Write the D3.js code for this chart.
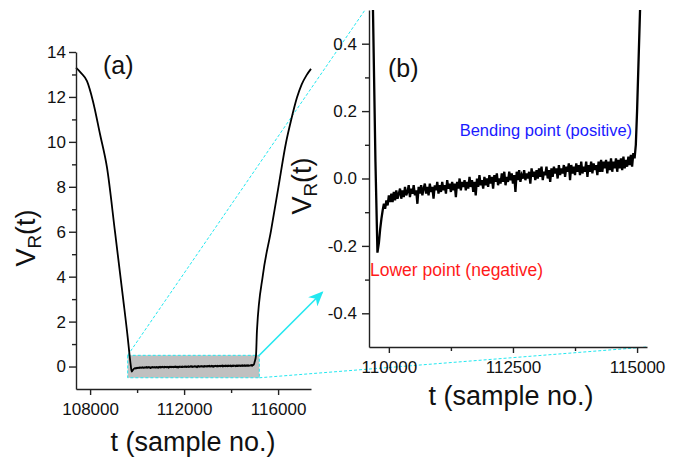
<!DOCTYPE html>
<html>
<head>
<meta charset="utf-8">
<script src="https://cdn.jsdelivr.net/npm/d3@7"></script>
<style>
  body { margin: 0; background: #fff; }
  svg { font-family: Arial, "Liberation Sans", sans-serif; }
  .axis path, .axis line { stroke: #222; stroke-width: 1.4; }
  .axis text { fill: #111; font-size: 17px; font-family: Arial, "Liberation Sans", sans-serif; }
</style>
</head>
<body>
<div id="chart"></div>
<script>
'use strict';

// left arm of the signal (descending part)
let leftT = [107400, 107600, 107868, 108124, 108421, 108720, 109059, 109400, 109600, 109680, 109730, 109770];
let leftV = [13.3, 13.08, 12.7, 11.8, 10.35, 8.85, 6.0, 3.07, 1.3, 0.5, 0.05, -0.22];

// noisy flat part, one value every 25 samples from 109800
let flatStart = 109800;
let flatStep = 25;
let flatV = [
  -0.19, -0.15, -0.12, -0.095, -0.075, -0.09, -0.065, -0.08, -0.05, -0.07,
  -0.045, -0.07, -0.04, -0.065, -0.035, -0.06, -0.045, -0.03, -0.06, -0.035,
  -0.055, -0.025, -0.05, -0.04, -0.02, -0.055, -0.03, -0.045, -0.02, -0.05,
  -0.035, -0.075, -0.025, -0.045, -0.02, -0.05, -0.03, -0.015, -0.045, -0.025,
  -0.05, -0.015, -0.04, -0.025, -0.06, -0.02, -0.035, -0.01, -0.045, -0.02,
  -0.04, -0.01, -0.035, -0.02, -0.045, -0.005, -0.03, -0.015, -0.04, -0.01,
  -0.035, -0.015, -0.055, -0.01, -0.03, 0.0, -0.035, -0.01, -0.025, -0.005,
  -0.035, -0.01, -0.03, 0.005, -0.025, -0.005, -0.04, -0.01, -0.05, 0.0,
  -0.025, 0.01, -0.02, -0.005, -0.03, 0.005, -0.02, 0.0, -0.025, 0.01,
  -0.015, 0.005, -0.03, 0.01, -0.01, 0.015, -0.02, 0.0, -0.015, 0.015,
  -0.01, 0.02, -0.02, 0.005, -0.01, 0.02, -0.005, 0.015, -0.015, 0.01,
  -0.04, 0.02, -0.005, 0.025, -0.01, 0.01, 0.0, 0.025, -0.005, 0.015,
  0.0, 0.02, -0.015, 0.03, 0.005, 0.02, -0.005, 0.025, 0.0, 0.03,
  0.005, 0.035, -0.005, 0.02, 0.01, 0.035, 0.0, 0.025, -0.01, 0.03,
  0.005, 0.035, 0.015, 0.03, 0.0, 0.04, 0.01, 0.03, 0.015, 0.04,
  0.005, 0.035, 0.02, 0.045, -0.005, 0.04, 0.015, 0.035, 0.01, 0.045,
  0.02, 0.04, 0.01, 0.05, 0.015, 0.035, 0.02, 0.05, 0.005, 0.04,
  0.02, 0.05, 0.015, 0.045, 0.025, 0.04, 0.01, 0.05, 0.02, 0.055,
  0.02, 0.05, 0.03, 0.055, 0.015, 0.05, 0.025, 0.06, 0.02, 0.05,
  0.03, 0.06, 0.02, 0.055, 0.03, 0.06, 0.025, 0.065, 0.03, 0.055,
  0.035, 0.065, 0.04, 0.07, 0.035, 0.075, 0.06, 0.1
];

// right arm (rising part)
let rightT = [115000, 115060, 115100, 115357, 115697, 116010, 116336, 116550, 116800, 117000, 117200, 117400];
let rightV = [0.2, 0.5, 1.6, 4.1, 6.04, 7.96, 9.96, 10.95, 11.96, 12.55, 12.95, 13.25];

// axis ticks
let aTicksY = [0, 2, 4, 6, 8, 10, 12, 14];
let aMinorY = [1, 3, 5, 7, 9, 11, 13];
let aTicksX = [108000, 112000, 116000];
let aMinorX = [110000, 114000];
let bTicksY = [-0.4, -0.2, 0.0, 0.2, 0.4];
let bMinorY = [-0.3, -0.1, 0.1, 0.3];
let bTicksX = [110000, 112500, 115000];
let bMinorX = [111250, 113750];

// zoom window shown in (b)
let zoomT = [109600, 115200];
let zoomV = [-0.5, 0.5];

let signal = [];
leftT.forEach((t, i) => signal.push({t: t, v: leftV[i]}));
flatV.forEach((v, i) => signal.push({t: flatStart + i * flatStep, v: v}));
rightT.forEach((t, i) => signal.push({t: t, v: rightV[i]}));

let width = 687, height = 459;
let svg = d3.select('#chart').append('svg')
    .attr('width', width)
    .attr('height', height);

let cyan = '#22e8f0';

let defs = svg.append('defs');
defs.append('marker')
    .attr('id', 'arrow')
    .attr('viewBox', '0 0 10 10')
    .attr('refX', 9).attr('refY', 5)
    .attr('markerWidth', 15).attr('markerHeight', 13)
    .attr('markerUnits', 'userSpaceOnUse')
    .attr('orient', 'auto')
    .attr('preserveAspectRatio', 'none')
    .append('path')
    .attr('d', 'M0,0 L10,5 L0,10 L3,5 Z')
    .attr('fill', cyan);

// scales
let xA = d3.scaleLinear().domain([107400, 117400]).range([76, 311]);
let yA = d3.scaleLinear().domain([-1, 14]).range([389, 52]);
let xB = d3.scaleLinear().domain(zoomT).range([369, 647]);
let yB = d3.scaleLinear().domain(zoomV).range([347, 10]);

// gray zoom rectangle in (a)
svg.append('rect')
    .attr('x', xA(zoomT[0]))
    .attr('y', yA(zoomV[1]))
    .attr('width', xA(zoomT[1]) - xA(zoomT[0]))
    .attr('height', yA(zoomV[0]) - yA(zoomV[1]))
    .attr('fill', '#c0c0c0')
    .attr('stroke', cyan)
    .attr('stroke-width', 1)
    .attr('stroke-dasharray', '3,2');

// dashed connector lines
svg.append('line')
    .attr('x1', xA(zoomT[0])).attr('y1', yA(zoomV[1]))
    .attr('x2', xB(zoomT[0]) - 4).attr('y2', yB(zoomV[1]))
    .attr('stroke', cyan).attr('stroke-width', 1).attr('stroke-dasharray', '3,2');
svg.append('line')
    .attr('x1', xA(zoomT[1])).attr('y1', yA(zoomV[0]))
    .attr('x2', xB(zoomT[1])).attr('y2', yB(zoomV[0]))
    .attr('stroke', cyan).attr('stroke-width', 1).attr('stroke-dasharray', '3,2');

// arrow
svg.append('line')
    .attr('x1', xA(zoomT[1])).attr('y1', yA(zoomV[1]))
    .attr('x2', xA(zoomT[1]) + 63).attr('y2', yA(zoomV[1]) - 63)
    .attr('stroke', cyan).attr('stroke-width', 1.6)
    .attr('marker-end', 'url(#arrow)');

// ---- panel (a)
let lineA = d3.line().x(d => xA(d.t)).y(d => yA(d.v)).curve(d3.curveMonotoneX);
svg.append('path')
    .datum(signal)
    .attr('d', lineA)
    .attr('fill', 'none')
    .attr('stroke', '#000')
    .attr('stroke-width', 1.8);

svg.append('g').attr('class', 'axis')
    .attr('transform', `translate(${xA.range()[0]},0)`)
    .call(d3.axisLeft(yA).tickValues(aTicksY).tickSize(7).tickSizeOuter(0).tickPadding(3));
svg.append('g').attr('class', 'axis')
    .attr('transform', `translate(${xA.range()[0]},0)`)
    .call(d3.axisLeft(yA).tickValues(aMinorY).tickSize(4).tickFormat('').tickSizeOuter(0))
    .select('.domain').remove();

svg.append('g').attr('class', 'axis')
    .attr('transform', `translate(0,${yA.range()[0]})`)
    .call(d3.axisBottom(xA).tickValues(aTicksX).tickSize(6).tickSizeOuter(0).tickPadding(8).tickFormat(d3.format('d')));
svg.append('g').attr('class', 'axis')
    .attr('transform', `translate(0,${yA.range()[0]})`)
    .call(d3.axisBottom(xA).tickValues(aMinorX).tickSize(4).tickFormat('').tickSizeOuter(0))
    .select('.domain').remove();

// ---- panel (b)
defs.append('clipPath').attr('id', 'clipB')
    .append('rect')
    .attr('x', xB.range()[0]).attr('y', yB.range()[1])
    .attr('width', xB.range()[1] - xB.range()[0])
    .attr('height', yB.range()[0] - yB.range()[1]);

let lineB = d3.line().x(d => xB(d.t)).y(d => yB(d.v));
svg.append('path')
    .datum(signal)
    .attr('d', lineB)
    .attr('clip-path', 'url(#clipB)')
    .attr('fill', 'none')
    .attr('stroke', '#000')
    .attr('stroke-width', 2.3);

let fmtB = d => d3.format('.1f')(d).replace('\u2212', '-');
svg.append('g').attr('class', 'axis')
    .attr('transform', `translate(${xB.range()[0]},0)`)
    .call(d3.axisLeft(yB).tickValues(bTicksY).tickSize(7).tickSizeOuter(0).tickPadding(5).tickFormat(fmtB));
svg.append('g').attr('class', 'axis')
    .attr('transform', `translate(${xB.range()[0]},0)`)
    .call(d3.axisLeft(yB).tickValues(bMinorY).tickSize(4).tickFormat('').tickSizeOuter(0))
    .select('.domain').remove();

svg.append('g').attr('class', 'axis')
    .attr('transform', `translate(0,${yB.range()[0]})`)
    .call(d3.axisBottom(xB).tickValues(bTicksX).tickSize(6).tickSizeOuter(0).tickPadding(8).tickFormat(d3.format('d')));
svg.append('g').attr('class', 'axis')
    .attr('transform', `translate(0,${yB.range()[0]})`)
    .call(d3.axisBottom(xB).tickValues(bMinorX).tickSize(4).tickFormat('').tickSizeOuter(0))
    .select('.domain').remove();

// ---- labels
function yLabel(x, y) {
  let t = svg.append('text')
      .attr('transform', `translate(${x},${y}) rotate(-90)`)
      .attr('text-anchor', 'middle')
      .attr('font-size', 27)
      .attr('fill', '#111');
  t.append('tspan').text('V');
  t.append('tspan').attr('font-size', 19).attr('dy', 6).text('R');
  t.append('tspan').attr('dy', -6).text('(t)');
}
yLabel(35, 238);
yLabel(311, 186);

svg.append('text')
    .attr('x', 193)
    .attr('y', 451)
    .attr('text-anchor', 'middle')
    .attr('font-size', 27).attr('fill', '#111')
    .text('t (sample no.)');
svg.append('text')
    .attr('x', 511)
    .attr('y', 405)
    .attr('text-anchor', 'middle')
    .attr('font-size', 27).attr('fill', '#111')
    .text('t (sample no.)');

svg.append('text')
    .attr('x', 103).attr('y', 74)
    .attr('font-size', 25).attr('fill', '#111')
    .text('(a)');
svg.append('text')
    .attr('x', 388).attr('y', 77)
    .attr('font-size', 25).attr('fill', '#111')
    .text('(b)');

svg.append('text')
    .attr('x', xB(115000) - 5).attr('y', yB(0.125))
    .attr('text-anchor', 'end')
    .attr('font-size', 16.5).attr('fill', '#1a1aff')
    .text('Bending point (positive)');
svg.append('text')
    .attr('x', xB(109600) + 1).attr('y', yB(-0.29))
    .attr('font-size', 17.5).attr('fill', '#ff1a1a')
    .text('Lower point (negative)');
</script>
</body>
</html>
